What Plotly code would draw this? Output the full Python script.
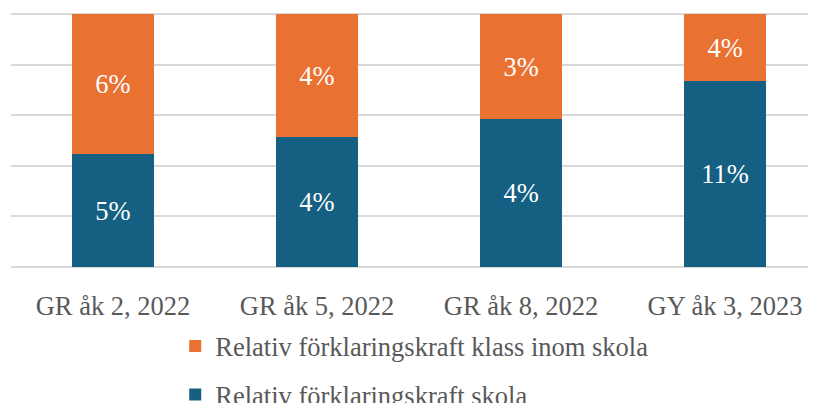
import plotly.graph_objects as go

categories = ["GR åk 2, 2022", "GR åk 5, 2022", "GR åk 8, 2022", "GY åk 3, 2023"]
skola = [5.0, 4.1, 4.2, 11.0]
klass_inom_skola = [6.2, 3.9, 3.0, 4.0]
series_names = ["Relativ förklaringskraft skola", "Relativ förklaringskraft klass inom skola"]

BLUE = "#156082"
ORANGE = "#E97132"
FONT = "Liberation Serif, Times New Roman, serif"
FS = 26.5

fig = go.Figure()
for name, vals, col, grp, rank in [(series_names[0], skola, BLUE, "b", 2),
                                   (series_names[1], klass_inom_skola, ORANGE, "a", 1)]:
    fig.add_trace(go.Bar(
        x=categories, y=vals, name=name, marker_color=col, marker_line_width=0,
        text=[f"{v:.0f}%" for v in vals], textposition="inside",
        insidetextanchor="middle", textangle=0,
        textfont=dict(family=FONT, size=FS, color="white"),
        width=0.4, legendgroup=grp, legendrank=rank,
    ))

fig.update_layout(
    barmode="stack", barnorm="percent",
    width=816, height=403,
    margin=dict(l=3, r=0, t=5, b=144, autoexpand=False),
    paper_bgcolor="white", plot_bgcolor="white",
    font=dict(family=FONT, size=FS, color="#595959"),
    showlegend=True,
    legend=dict(orientation="v", x=0.202, xanchor="left", y=-0.218, yanchor="top",
                traceorder="grouped", tracegroupgap=11,
                font=dict(family=FONT, size=FS, color="#595959"),
                bgcolor="rgba(0,0,0,0)"),
    uniformtext=dict(minsize=FS, mode="show"),
)
fig.update_xaxes(range=[-0.5, 3.485], showgrid=False, showline=False, ticks="",
                 ticklabelstandoff=20,
                 tickfont=dict(family=FONT, size=FS, color="#595959"))
fig.update_yaxes(range=[0, 100.4], tick0=0, dtick=20, showgrid=True,
                 gridcolor="#d9d9d9", gridwidth=1.5, zeroline=True,
                 zerolinecolor="#d9d9d9", zerolinewidth=1.5,
                 showticklabels=False, ticks="")

fig.write_html("out.html")
